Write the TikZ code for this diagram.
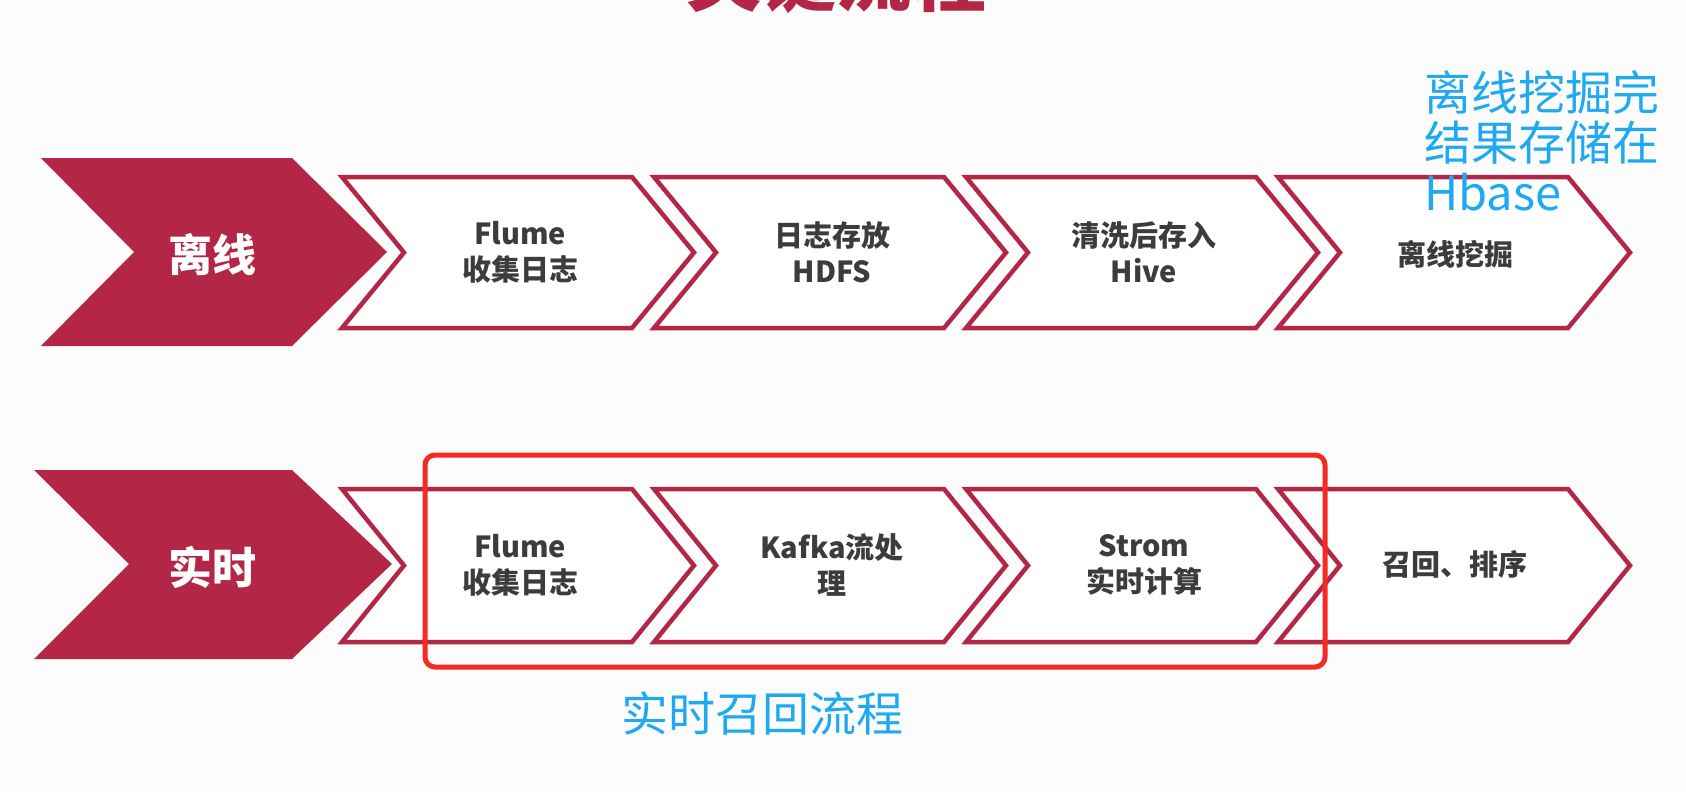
\documentclass[tikz,border=0pt]{standalone}
\usepackage{fontspec}
\setmainfont{Noto Sans CJK SC}
\definecolor{bg}{HTML}{FBFCFB}
\definecolor{chevred}{HTML}{B42646}
\definecolor{txtgray}{HTML}{3C3C3C}
\definecolor{noteblue}{HTML}{1FA9F0}
\definecolor{boxred}{HTML}{F52A22}
\begin{document}
\begin{tikzpicture}[x=1pt,y=-1pt,
  chevtxt/.style={font=\bfseries\fontsize{29}{36}\selectfont, text=txtgray, align=center, inner sep=0pt},
  headtxt/.style={font=\bfseries\fontsize{44}{50}\selectfont, text=white, inner sep=0pt},
  notetxt/.style={font=\fontsize{47}{50}\selectfont, text=noteblue, align=left, inner sep=0pt},
  titletxt/.style={font=\bfseries\fontsize{75}{80}\selectfont, text=chevred, inner sep=0pt},
  outl/.style={draw=chevred, line width=4.5pt, fill=white, line join=miter},
  solidchev/.style={fill=chevred},
  redbox/.style={draw=boxred, line width=5pt, rounded corners=10pt}]
\useasboundingbox (0,0) rectangle (1686,792);
\fill[bg] (0,0) rectangle (1686,792);
\clip (0,0) rectangle (1686,792);
% title (cut off at the top, as in the reference)
\node[titletxt, anchor=base] (title) at (836,6) {关键流程};
% chevrons
\fill[solidchev] (41,158) -- (292,158) -- (387,252) -- (292,346) -- (41,346) -- (134,252) -- cycle;
\foreach \i in {0,1,2,3}{
  \pgfmathsetmacro{\L}{342+312*\i}
  \draw[outl] (\L,177) -- (\L+290,177) -- (\L+352,252.5) -- (\L+290,328) -- (\L,328) -- (\L+62,252.5) -- cycle;
  \draw[outl] (\L,489) -- (\L+290,489) -- (\L+352,565.5) -- (\L+290,642) -- (\L,642) -- (\L+62,565.5) -- cycle;
}
\fill[solidchev] (34,470) -- (292,470) -- (392,564) -- (292,659) -- (34,659) -- (129,564) -- cycle;
\node[headtxt] (off) at (212,255) {离线};
\node[headtxt] (rt) at (212,567) {实时};
\node[chevtxt] (a1) at (520,252) {Flume\\收集日志};
\node[chevtxt] (a2) at (832,252) {日志存放\\HDFS};
\node[chevtxt] (a3) at (1144,252) {清洗后存入\\Hive};
\node[chevtxt] (a4) at (1455,254) {离线挖掘};
\node[chevtxt] (b1) at (520,565) {Flume\\收集日志};
\node[chevtxt] (b2) at (832,565) {Kafka流处\\理};
\node[chevtxt] (b3) at (1144,565) {Strom\\实时计算};
\node[chevtxt] (b4) at (1455,564) {召回、排序};
% annotations
\draw[redbox] (425,455) rectangle (1325,667);
\node[notetxt, anchor=center] (note2) at (762,713) {实时召回流程};
\node[notetxt, anchor=north west] (note1) at (1424,70) {离线挖掘完\\结果存储在\\Hbase};
\end{tikzpicture}
\end{document}
